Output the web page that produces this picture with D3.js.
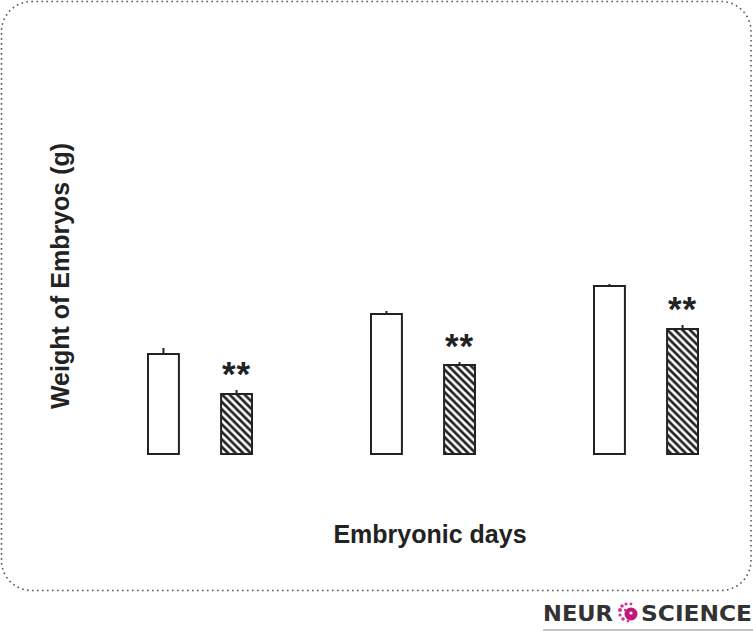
<!DOCTYPE html>
<html><head><meta charset="utf-8">
<script src="https://cdn.jsdelivr.net/npm/d3@7/dist/d3.min.js"></script>
<style>html,body{margin:0;padding:0;background:#fff;}svg{display:block;}</style>
</head><body>
<script>
// ---- data ----
const days = ["E14", "E16", "E18"];
const groups = ["Control", "Treated"];
const controlValues = [1.00, 1.40, 1.68];
const controlErrors = [0.06, 0.03, 0.02];
const treatedValues = [0.60, 0.89, 1.25];
const treatedErrors = [0.04, 0.03, 0.04];
const significance = ["**", "**", "**"];
const yLabel = "Weight of Embryos (g)";
const xLabel = "Embryonic days";

const W = 753, H = 631;
const svg = d3.select("body").append("svg").attr("width", W).attr("height", H);

const defs = svg.append("defs");
const P = 7.5;
const pat = defs.append("pattern").attr("id", "hatch")
  .attr("patternUnits", "userSpaceOnUse").attr("width", P).attr("height", P);
pat.append("rect").attr("width", P).attr("height", P).attr("fill", "#fff");
pat.append("path").attr("d", `M${-P/2},${P/2} L${P/2},${1.5*P} M0,0 L${P},${P} M${P/2},${-P/2} L${1.5*P},${P/2}`)
  .attr("stroke", "#222").attr("stroke-width", 2.7);

// dotted rounded frame
svg.append("rect").attr("x", 1.5).attr("y", 1.5).attr("width", 749.5).attr("height", 589)
  .attr("rx", 30).attr("ry", 30).attr("fill", "none")
  .attr("stroke", "#555").attr("stroke-width", 1.6).attr("stroke-dasharray", "1.6,3.4");

const x0 = d3.scalePoint().domain(days).range([200, 646]);
const x1 = d3.scaleBand().domain(groups).range([-52, 52]).paddingInner(0.577);
const y = d3.scaleLinear().domain([0, 2]).range([454, 254]);

const rows = [];
days.forEach((d, i) => {
  rows.push({day: d, g: groups[0], v: controlValues[i], e: controlErrors[i]});
  rows.push({day: d, g: groups[1], v: treatedValues[i], e: treatedErrors[i], sig: significance[i]});
});

const bw = x1.bandwidth();
const bars = svg.append("g");
bars.selectAll("line.err").data(rows).join("line").attr("class", "err")
  .attr("x1", d => x0(d.day) + x1(d.g) + bw / 2).attr("x2", d => x0(d.day) + x1(d.g) + bw / 2)
  .attr("y1", d => y(d.v)).attr("y2", d => y(d.v + d.e))
  .attr("stroke", "#222").attr("stroke-width", 2);
bars.selectAll("rect.bar").data(rows).join("rect").attr("class", "bar")
  .attr("x", d => x0(d.day) + x1(d.g)).attr("width", bw)
  .attr("y", d => y(d.v)).attr("height", d => y(0) - y(d.v))
  .attr("fill", d => d.g === groups[0] ? "#fff" : "url(#hatch)")
  .attr("stroke", "#222").attr("stroke-width", 2);

svg.append("g").selectAll("text").data(rows.filter(d => d.sig)).join("text")
  .attr("x", d => x0(d.day) + x1(d.g) + bw / 2)
  .attr("y", d => y(d.v + d.e) - 4)
  .attr("text-anchor", "middle")
  .attr("font-family", "Liberation Sans, Arial, sans-serif").attr("font-weight", "bold")
  .attr("font-size", 35).attr("fill", "#222").attr("letter-spacing", 1)
  .text(d => d.sig);

svg.append("text").attr("transform", "translate(68.5,276) rotate(-90)")
  .attr("text-anchor", "middle")
  .attr("font-family", "Liberation Sans, Arial, sans-serif").attr("font-weight", "bold")
  .attr("font-size", 25).attr("fill", "#222").text(yLabel);

svg.append("text").attr("x", 430).attr("y", 543).attr("text-anchor", "middle")
  .attr("font-family", "Liberation Sans, Arial, sans-serif").attr("font-weight", "bold")
  .attr("font-size", 25).attr("fill", "#222").text(xLabel);

// logo
const logo = svg.append("g");
logo.append("text").attr("x", 543).attr("y", 621).attr("textLength", 70).attr("lengthAdjust", "spacingAndGlyphs")
  .attr("font-family", "DejaVu Sans, sans-serif").attr("font-weight", "bold").attr("font-size", 22)
  .attr("fill", "#333").text("NEUR");
logo.append("text").attr("x", 641).attr("y", 621).attr("textLength", 111).attr("lengthAdjust", "spacingAndGlyphs")
  .attr("font-family", "DejaVu Sans, sans-serif").attr("font-weight", "bold").attr("font-size", 22)
  .attr("fill", "#333").text("SCIENCE");
const ic = logo.append("g").attr("transform", "translate(627,612)");
ic.append("circle").attr("cx", 4).attr("cy", 2).attr("r", 6.5).attr("fill", "#c0187a");
ic.append("circle").attr("cx", 4).attr("cy", 1).attr("r", 1.6).attr("fill", "#fff");
[[-7,-2,2],[-5,-6,1.8],[-1,-8,1.6],[4,-8,1.4],[-7,3,1.6],[-4,7,1.8],[1,9,1.4],[-2,-2,1.2]].forEach(c => {
  ic.append("circle").attr("cx", c[0]).attr("cy", c[1]).attr("r", c[2]).attr("fill", "#d2378f");
});
logo.append("line").attr("x1", 543).attr("x2", 753).attr("y1", 630).attr("y2", 630)
  .attr("stroke", "#888").attr("stroke-width", 1);
</script>
</body></html>
